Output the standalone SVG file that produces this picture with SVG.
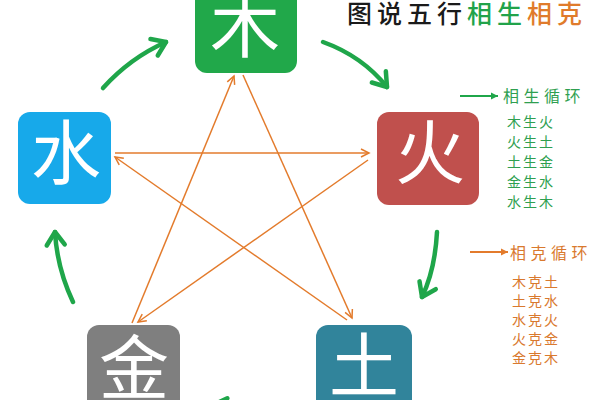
<svg xmlns="http://www.w3.org/2000/svg" width="600" height="400" viewBox="0 0 600 400">
<style>
.box{stroke:none}
.ch{font-family:"Noto Sans CJK SC","Noto Sans CJK TC",sans-serif;font-size:70px;fill:#ffffff;text-anchor:middle}
.sheng{fill:none;stroke:#1fa64a;stroke-width:4.5;stroke-linecap:round}
.ke{fill:none;stroke:#e37b2c;stroke-width:1.5}
.t{font-family:"Noto Sans CJK SC","Noto Sans CJK TC",sans-serif}
.g{fill:#2f9f50}
.o{fill:#d9792e}
</style>
<defs>
<marker id="gh" viewBox="-16 -12 20 24" markerWidth="20" markerHeight="24" refX="0" refY="0" orient="auto" markerUnits="userSpaceOnUse">
<path d="M-13,-9 L0,0 L-13,9" fill="none" stroke="#1fa64a" stroke-width="4.5" stroke-linecap="round" stroke-linejoin="round"/>
</marker>
<marker id="oh" viewBox="-10 -6 12 12" markerWidth="12" markerHeight="12" refX="0" refY="0" orient="auto" markerUnits="userSpaceOnUse">
<path d="M-8,-4 L0,0 L-8,4" fill="none" stroke="#e37b2c" stroke-width="1.5"/>
</marker>
<marker id="lg" viewBox="-8 -5 10 10" markerWidth="10" markerHeight="10" refX="0" refY="0" orient="auto" markerUnits="userSpaceOnUse">
<path d="M-7,-3.5 L0,0 L-7,3.5 Z" fill="#1fa64a"/>
</marker>
<marker id="lo" viewBox="-8 -5 10 10" markerWidth="10" markerHeight="10" refX="0" refY="0" orient="auto" markerUnits="userSpaceOnUse">
<path d="M-7,-3.5 L0,0 L-7,3.5 Z" fill="#e37b2c"/>
</marker>
</defs>
<rect width="600" height="400" fill="#ffffff"/>

<g id="connectors">
<g id="ke">
<line class="ke" x1="243" y1="75" x2="352" y2="318" marker-end="url(#oh)"/>
<line class="ke" x1="347" y1="320" x2="115" y2="157" marker-end="url(#oh)"/>
<line class="ke" x1="115" y1="153" x2="369" y2="153" marker-end="url(#oh)"/>
<line class="ke" x1="368" y1="160" x2="138" y2="322" marker-end="url(#oh)"/>
<line class="ke" x1="132" y1="323" x2="234" y2="76" marker-end="url(#oh)"/>
</g>
<g id="sheng">
<path class="sheng" d="M103,88 Q130,58 166,42" marker-end="url(#gh)"/>
<path class="sheng" d="M323,42 Q362,56 387,87" marker-end="url(#gh)"/>
<path class="sheng" d="M437,232 Q435,270 422,297" marker-end="url(#gh)"/>
<path class="sheng" d="M300,414 Q255,412 213,405" marker-end="url(#gh)"/>
<path class="sheng" d="M73,302 Q57,268 55,232" marker-end="url(#gh)"/>
</g>
</g>

<g id="node-mu">
<rect class="box" x="195" y="-29" width="102" height="102" rx="12" fill="#21a84a"/>
<text class="ch" x="245" y="52">木</text>
</g>
<g id="node-huo">
<rect class="box" x="377" y="112" width="102" height="93" rx="12" fill="#c0504d"/>
<text class="ch" x="430" y="179">火</text>
</g>
<g id="node-tu">
<rect class="box" x="316" y="325" width="96" height="100" rx="12" fill="#31849b"/>
<text class="ch" x="364" y="392">土</text>
</g>
<g id="node-jin">
<rect class="box" x="87" y="325" width="93" height="100" rx="12" fill="#7f7f7f"/>
<text class="ch" x="134" y="394">金</text>
</g>
<g id="node-shui">
<rect class="box" x="18" y="112" width="93" height="92" rx="12" fill="#17a9ea"/>
<text class="ch" x="66" y="179">水</text>
</g>

<g id="title">
<text class="t" x="347" y="23" font-size="25" letter-spacing="5" font-weight="500"><tspan fill="#1a1a1a">图说五行</tspan><tspan fill="#21a34a">相生</tspan><tspan fill="#e07b2b">相克</tspan></text>
</g>

<g id="legend-sheng">
<line x1="460" y1="96" x2="498" y2="96" stroke="#1fa64a" stroke-width="2" marker-end="url(#lg)"/>
<text class="t g" x="503" y="102" font-size="16" letter-spacing="4.5">相生循环</text>
<text class="t g" font-size="14" letter-spacing="2">
<tspan x="507" y="127">木生火</tspan>
<tspan x="507" y="147">火生土</tspan>
<tspan x="507" y="167">土生金</tspan>
<tspan x="507" y="187">金生水</tspan>
<tspan x="507" y="207">水生木</tspan>
</text>
</g>

<g id="legend-ke">
<line x1="470" y1="252" x2="508" y2="252" stroke="#e37b2c" stroke-width="2" marker-end="url(#lo)"/>
<text class="t o" x="510" y="259" font-size="16" letter-spacing="4.5">相克循环</text>
<text class="t o" font-size="14" letter-spacing="2">
<tspan x="512" y="287">木克土</tspan>
<tspan x="512" y="306">土克水</tspan>
<tspan x="512" y="325">水克火</tspan>
<tspan x="512" y="344">火克金</tspan>
<tspan x="512" y="363">金克木</tspan>
</text>
</g>
</svg>
